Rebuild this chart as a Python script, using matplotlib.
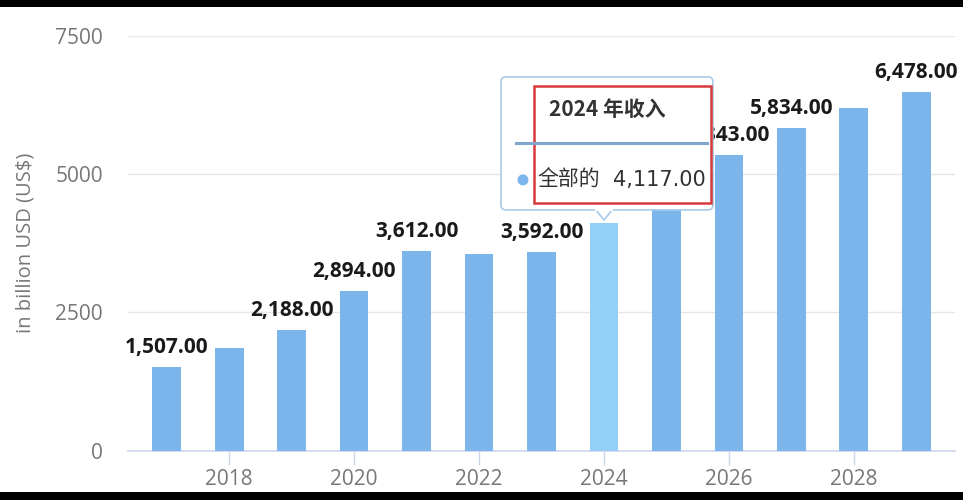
import numpy as np
import matplotlib
matplotlib.use("Agg")
import matplotlib.pyplot as plt
from matplotlib.patches import FancyBboxPatch, Rectangle, Polygon, Circle

# revenue per year, billion USD
years = [2017, 2018, 2019, 2020, 2021, 2022, 2023, 2024, 2025, 2026, 2027, 2028, 2029]
revenue = [1507, 1860, 2188, 2894, 3612, 3550, 3592, 4117, 4730, 5343, 5834, 6190, 6478]
# labels that highcharts kept visible (others hidden by overlap)
labelled = [2017, 2019, 2020, 2021, 2023, 2026, 2027, 2029]
hover_year = 2024
tooltip_title = "2024 年收入"
tooltip_series = "全部的"

BAR = "#7cb5ec"
BAR_HOVER = "#93cff6"
GRID = "#e6e6e6"
AXIS = "#ccd6eb"
TICK_TXT = "#777777"

plt.rcParams["font.family"] = ["Open Sans", "DejaVu Sans"]

W, H = 963, 500
fig = plt.figure(figsize=(W / 100, H / 100), dpi=100)
fig.patch.set_facecolor("white")

ax = fig.add_axes([128 / W, 49.3 / H, (955 - 128) / W, 415 / H])
colors = [BAR_HOVER if y == hover_year else BAR for y in years]
ax.bar(years, revenue, width=0.46, color=colors, zorder=3)

ax.set_xlim(2016.38, 2029.62)
ax.set_ylim(0, 7500)
ax.set_yticks([0, 2500, 5000, 7500])
ax.set_xticks([2018, 2020, 2022, 2024, 2026, 2028])
ax.grid(axis="y", color=GRID, linewidth=1, zorder=0)
for s in ["top", "right", "left"]:
    ax.spines[s].set_visible(False)
ax.spines["bottom"].set_color(AXIS)
ax.spines["bottom"].set_linewidth(1.2)
ax.tick_params(axis="x", length=10, width=1, color=AXIS, labelsize=15,
               labelcolor=TICK_TXT, pad=3)
ax.tick_params(axis="y", length=0, labelsize=15, labelcolor=TICK_TXT, pad=18)
ax.set_ylabel("in billion USD (US$)", fontsize=14.5, color=TICK_TXT)
ax.yaxis.set_label_coords(-0.112, 0.5)

for yr, v in zip(years, revenue):
    if yr in labelled:
        ax.annotate(f"{v:,.2f}", (yr, v), xytext=(0, 10), textcoords="offset points",
                    ha="center", va="baseline", fontsize=15, fontweight="bold",
                    color="#1a1a1a", zorder=5)

# tooltip overlay in pixel coordinates, anchored on the hovered bar
ov = fig.add_axes([0, 0, 1, 1], zorder=10)
ov.set_xlim(0, W)
ov.set_ylim(H, 0)
ov.axis("off")
ov.patch.set_alpha(0)

fig.canvas.draw()
hv = revenue[years.index(hover_year)]
px, py = ax.transData.transform((hover_year, hv))
tx, ty = px, H - py - 3  # arrow tip in top-down pixels

bx0, bx1, by0, by1 = tx - 103, tx + 109, ty - 143, ty - 10
box = FancyBboxPatch((bx0, by0), bx1 - bx0, by1 - by0,
                     boxstyle="round,pad=0,rounding_size=5",
                     facecolor="white", edgecolor="#a9cbe8", linewidth=1.2)
ov.add_patch(box)
ov.add_patch(Polygon([[tx - 9, by1 - 0.8], [tx, ty], [tx + 9, by1 - 0.8]],
                     closed=False, facecolor="white", edgecolor="#a9cbe8",
                     linewidth=1.2))
ov.add_patch(Rectangle((tx - 9, by1 - 2), 18, 3, facecolor="white", edgecolor="none"))
ov.plot([bx0 + 15, bx1 - 6], [ty - 77, ty - 77], color="#7fa6cc", linewidth=2.2)
ov.text(bx0 + 48, ty - 110, tooltip_title, fontsize=15, fontweight="bold",
        color="#333333", va="center", ha="left",
        family=["Noto Sans CJK SC", "DejaVu Sans"])
ov.add_patch(Circle((bx0 + 22, ty - 40), 5.5, facecolor=BAR, edgecolor="none"))
ov.text(bx0 + 36, ty - 40, tooltip_series, fontsize=15,
        color="#333333", va="center", ha="left",
        family=["Noto Sans CJK SC", "DejaVu Sans"])
ov.text(bx0 + 112, ty - 40, f"{hv:,.2f}", fontsize=15,
        color="#333333", va="center", ha="left", family=["DejaVu Sans"])
ov.add_patch(Rectangle((bx0 + 33, by0 + 9), 177, 117, facecolor="none",
                       edgecolor="#d83b3b", linewidth=1.8))

# black screen borders top and bottom
ov.add_patch(Rectangle((0, 0), W, 7, facecolor="black", edgecolor="none"))
ov.add_patch(Rectangle((0, 492), W, 8, facecolor="black", edgecolor="none"))

fig.savefig("out.png", dpi=100)
